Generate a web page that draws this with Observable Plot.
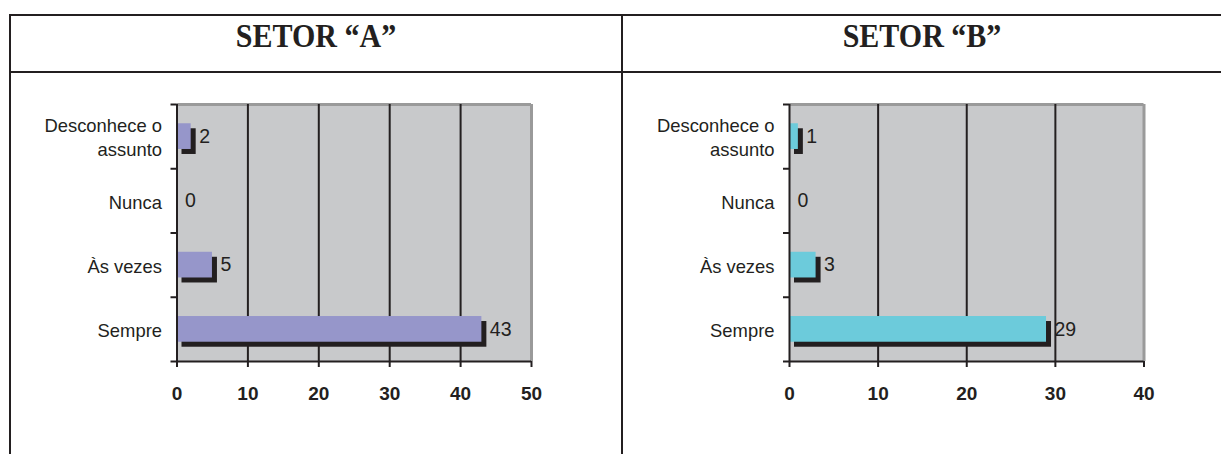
<!DOCTYPE html>
<html><head><meta charset="utf-8">
<script src="https://cdn.jsdelivr.net/npm/d3@7"></script>
<script src="https://cdn.jsdelivr.net/npm/@observablehq/plot@0.6"></script>
<style>
html,body{margin:0;padding:0;background:#fff;}
#wrap{position:relative;width:1221px;height:454px;overflow:hidden;background:#fff;}
.line{position:absolute;background:#231f20;}
.title{position:absolute;top:21.6px;line-height:30px;text-align:center;white-space:nowrap;
  font-family:"Liberation Serif","Times New Roman",serif;font-weight:bold;font-size:30px;color:#231f20;
  transform:scaleY(1.1);transform-origin:50% 25px;}
.chart{position:absolute;top:0;}
</style></head><body>
<div id="wrap">
  <div class="line" style="left:9px;top:14px;width:1212px;height:2px"></div>
  <div class="line" style="left:9px;top:70.5px;width:1212px;height:2px"></div>
  <div class="line" style="left:9px;top:14px;width:2px;height:440px"></div>
  <div class="line" style="left:620.7px;top:14px;width:2px;height:440px"></div>
  <div class="title" id="titleA" style="left:11px;width:610px"></div>
  <div class="title" id="titleB" style="left:623px;width:598px"></div>
  <div class="chart" id="chartA" style="left:0px"></div>
  <div class="chart" id="chartB" style="left:612px"></div>
</div>
<script>
const titles = ["SETOR \u201CA\u201D", "SETOR \u201CB\u201D"];
const categories = ["Desconhece o assunto", "Nunca", "\u00C0s vezes", "Sempre"];
const categoryLabels = ["Desconhece o\nassunto", "Nunca", "\u00C0s vezes", "Sempre"];
const valuesA = [2, 0, 5, 43];
const valuesB = [1, 0, 3, 29];
const ticksA = [0, 10, 20, 30, 40, 50];
const ticksB = [0, 10, 20, 30, 40];

const dark = "#231f20";
const bg = "#c8c9cb";
const borderGray = "#9a9a9a";

function makeChart(values, ticks, color, width, marginLeft, marginRight) {
  const n = categories.length;
  const data = categories.map((c, i) => ({cat: c, label: categoryLabels[i], idx: i, value: values[i]}));
  const xmax = ticks[ticks.length - 1];
  const grid = ticks.filter(t => t > 0 && t < xmax);
  return Plot.plot({
    width, height: 454,
    marginLeft, marginRight, marginTop: 104, marginBottom: 93,
    style: {background: "transparent", fontFamily: "'Liberation Sans', Arial, sans-serif", overflow: "visible", color: dark},
    x: {domain: [0, xmax], label: null},
    y: {domain: [0, n], reverse: true, label: null},
    marks: [
      Plot.frame({fill: bg, stroke: "none"}),
      Plot.ruleY([0], {stroke: borderGray, strokeWidth: 3}),
      Plot.ruleX([xmax], {stroke: borderGray, strokeWidth: 3}),
      Plot.ruleX(grid, {stroke: dark, strokeWidth: 2}),
      Plot.rectX(data, {x1: 0, x2: "value", y1: d => d.idx + 0.3, y2: d => d.idx + 0.7, fill: dark, dx: 5, dy: 5}),
      Plot.rectX(data, {x1: 0, x2: "value", y1: d => d.idx + 0.3, y2: d => d.idx + 0.7, fill: color}),
      Plot.ruleX([0], {stroke: dark, strokeWidth: 2}),
      Plot.ruleY([n], {stroke: dark, strokeWidth: 2}),
      Plot.axisY({ticks: d3.range(0, n + 1), tickSize: 6, tickFormat: () => "", strokeWidth: 2, color: dark, label: null}),
      Plot.axisX({ticks, tickSize: 6, tickPadding: 19, fontSize: 19, fontWeight: "bold", strokeWidth: 2, color: dark, label: null, tickFormat: d => String(d)}),
      Plot.text(data, {x: 0, y: d => d.idx + 0.5, text: "label", textAnchor: "end", dx: -15, fontSize: 18.4, lineHeight: 1.3, fill: dark}),
      Plot.text(data, {x: "value", y: d => d.idx + 0.5, text: d => String(d.value), textAnchor: "start", dx: 8, fontSize: 19.5, fill: dark})
    ]
  });
}

document.getElementById("titleA").textContent = titles[0];
document.getElementById("titleB").textContent = titles[1];
document.getElementById("chartA").append(makeChart(valuesA, ticksA, "#9696ca", 612, 176.5, 81));
document.getElementById("chartB").append(makeChart(valuesB, ticksB, "#6ccbdb", 609, 177, 77.5));
</script>
</body></html>
